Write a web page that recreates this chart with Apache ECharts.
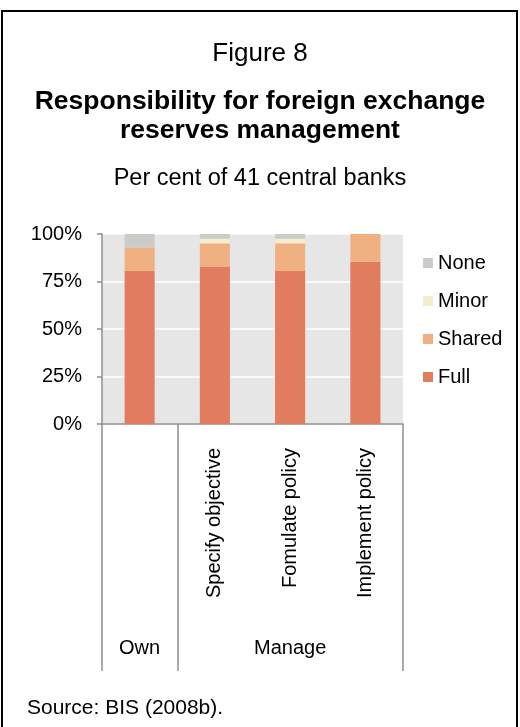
<!DOCTYPE html>
<html>
<head>
<meta charset="utf-8">
<script src="https://cdn.jsdelivr.net/npm/echarts@6/dist/echarts.min.js"></script>
<style>
html,body{margin:0;padding:0;background:#fff;}
#c{width:520px;height:727px;}
</style>
</head>
<body>
<div id="c"></div>
<script>
// ---- data ----
const categories = ['', 'Specify objective', 'Fomulate policy', 'Implement policy'];
const groups = ['Own', 'Manage'];
const groupSpans = [1, 3];
const full   = [80.5, 82.9, 80.5, 85.4];
const shared = [12.2, 12.2, 14.6, 14.6];
const minor  = [0, 2.4, 2.4, 0];
const none   = [7.3, 2.5, 2.5, 0];
const yTicks = [0, 25, 50, 75, 100];

const FONT = "'Liberation Sans', Arial, sans-serif";
const colors = {Full:'#e27c5f', Shared:'#f0b182', Minor:'#f6edcc', None:'#cbcbc7'};

// group boundaries and centers for the group-level axis
const bounds = [0];
groupSpans.forEach(s => bounds.push(bounds[bounds.length-1] + s));
const centers = groupSpans.map((s,i) => bounds[i] + s/2);

const chart = echarts.init(document.getElementById('c'), null, {renderer:'canvas'});
const axisGrey = '#8f8f8f';

function bar(name, data){
  return {
    name, type:'bar', stack:'t', data, barWidth:'40%',
    itemStyle:{color:colors[name]}, emphasis:{disabled:true}
  };
}

chart.setOption({
  animation:false,
  textStyle:{fontFamily:FONT},
  title:[
    {text:'Figure 8', left:'center', top:36,
     textStyle:{fontFamily:FONT, fontSize:26, fontWeight:'normal', color:'#000'}},
    {text:'Responsibility for foreign exchange\nreserves management', left:'center', top:82,
     textStyle:{fontFamily:FONT, fontSize:26.5, fontWeight:'bold', color:'#000', lineHeight:29, align:'center'}},
    {text:'Per cent of 41 central banks', left:'center', top:162,
     textStyle:{fontFamily:FONT, fontSize:23.5, fontWeight:'normal', color:'#000'}},
    {text:'Source: BIS (2008b).', left:22, top:693,
     textStyle:{fontFamily:FONT, fontSize:21, fontWeight:'normal', color:'#000'}}
  ],
  graphic:[
    {type:'rect', shape:{x:2, y:11, width:515, height:730}, style:{fill:'none', stroke:'#000', lineWidth:2}, silent:true}
  ],
  legend:{
    orient:'vertical', left:423, top:253, itemWidth:10, itemHeight:10, itemGap:18, padding:0,
    icon:'rect', data:['None','Minor','Shared','Full'],
    textStyle:{fontFamily:FONT, fontSize:20, color:'#000'}
  },
  grid:{left:102, right:117, top:234, bottom:303, show:true, backgroundColor:'#e6e6e6', borderWidth:0, containLabel:false},
  xAxis:[
    {type:'category', data:categories, position:'bottom',
     axisLine:{show:true, lineStyle:{color:axisGrey, width:1.5}},
     axisTick:{show:false},
     axisLabel:{rotate:90, margin:24, fontFamily:FONT, fontSize:20, color:'#000', interval:0},
     splitLine:{show:false}},
    {type:'value', min:0, max:bounds[bounds.length-1], position:'bottom',
     axisLine:{show:false},
     axisTick:{show:true, customValues:bounds, length:247, lineStyle:{color:axisGrey, width:1.5}},
     axisLabel:{show:true, customValues:centers, margin:214, fontFamily:FONT, fontSize:20, color:'#000',
       formatter:(v)=>{const i=centers.indexOf(v); return i>=0?groups[i]:'';}},
     splitLine:{show:false}}
  ],
  yAxis:{
    type:'value', min:0, max:100, interval:25,
    axisLine:{show:true, lineStyle:{color:axisGrey, width:1.5}},
    axisTick:{show:true, length:5, lineStyle:{color:axisGrey, width:1.5}},
    axisLabel:{formatter:'{value}%', margin:20, fontFamily:FONT, fontSize:20, color:'#000', customValues:yTicks},
    splitLine:{show:true, lineStyle:{color:'#ffffff', width:1.5}}
  },
  series:[bar('Full', full), bar('Shared', shared), bar('Minor', minor), bar('None', none)]
});
</script>
</body>
</html>
